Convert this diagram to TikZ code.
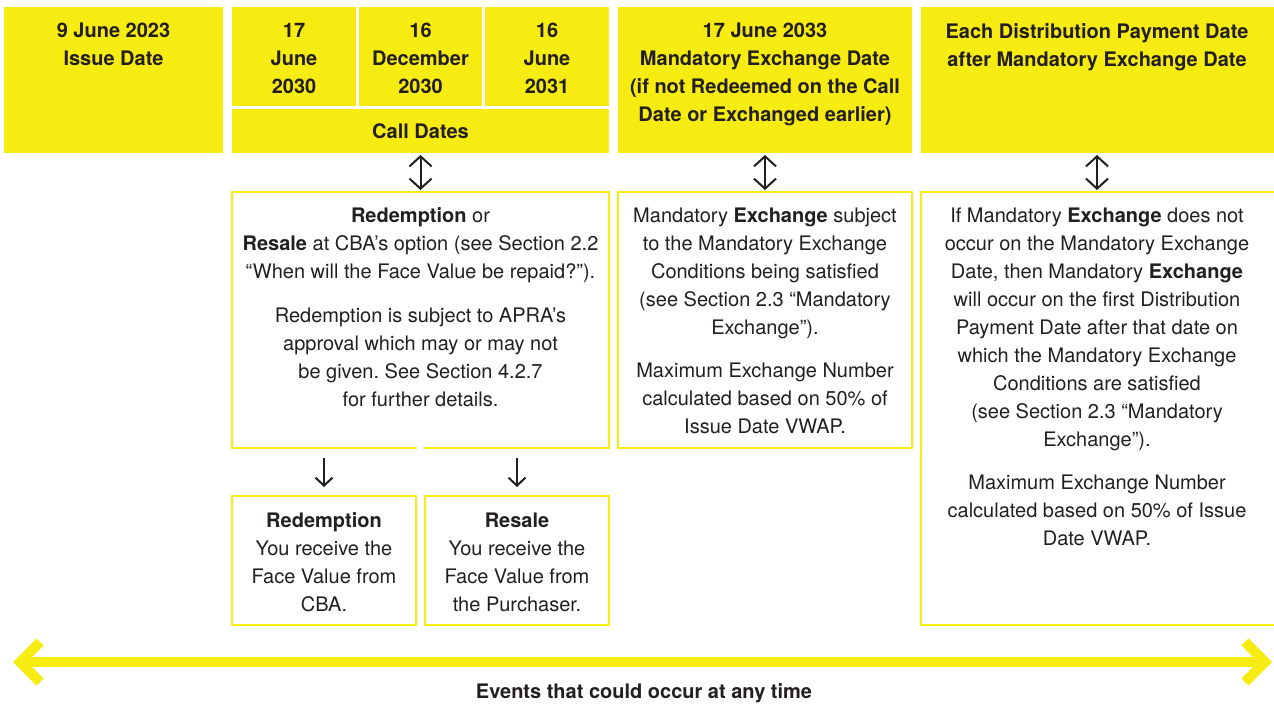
\documentclass[tikz,border=0pt]{standalone}
\usepackage{fontspec}
\setmainfont{TeX Gyre Heros}
\usetikzlibrary{arrows.meta}
\definecolor{cbay}{RGB}{247,236,17}
\definecolor{ink}{RGB}{35,31,32}
\tikzset{
  fillbox/.style={rectangle, fill=cbay, inner sep=0pt, outer sep=0pt},
  linebox/.style={rectangle, draw=cbay, line width=1.5pt, inner sep=0pt, outer sep=0pt},
  txt/.style={inner sep=0pt, align=center, text=ink, font=\fontsize{20}{28}\selectfont},
  hdr/.style={txt, font=\fontsize{20}{28}\selectfont\bfseries},
  dblarrow/.style={draw=ink, line width=2pt, {Straight Barb[length=10pt,width=22pt]}-{Straight Barb[length=10pt,width=22pt]}},
  downarrow/.style={draw=ink, line width=2pt, -{Straight Barb[length=8pt,width=17pt]}},
  bigarrow/.style={draw=cbay, line width=10pt, {Straight Barb[length=20pt,width=40pt]}-{Straight Barb[length=20pt,width=40pt]}}
}
\newcommand{\mkbox}[6]{\node[#6, minimum width={#4-#2}, minimum height={#5-#3}, anchor=north west] (#1) at (#2,#3) {};}
\frenchspacing
\begin{document}
\begin{tikzpicture}[x=1pt,y=-1pt]
\useasboundingbox[fill=white] (0,0) rectangle (1274,706);
% header boxes
\mkbox{issue}{4}{7}{223}{153}{fillbox}
\mkbox{callA}{232}{7}{356}{106}{fillbox}
\mkbox{callB}{359}{7}{482}{106}{fillbox}
\mkbox{callC}{485}{7}{609}{106}{fillbox}
\mkbox{calls}{232}{109}{609}{153}{fillbox}
\mkbox{mand}{618}{7}{912}{153}{fillbox}
\mkbox{dist}{921}{7}{1274}{153}{fillbox}
% text boxes
\mkbox{callbody}{232}{192}{609}{448}{linebox}
\draw[white, line width=2.5pt] (417,448) -- (424,448);
\mkbox{mandbody}{618}{192}{912}{448}{linebox}
\mkbox{distbody}{921}{192}{1276}{625}{linebox}
\mkbox{redbox}{232}{496}{416}{625}{linebox}
\mkbox{resbox}{425}{496}{609}{625}{linebox}
% header texts
\node[hdr, anchor=north] (tissue) at (113.5,23) {9 June 2023\\Issue Date};
\node[hdr, anchor=north] (tA) at (294,23) {17\\June\\2030};
\node[hdr, anchor=north] (tB) at (420.5,23) {16\\December\\2030};
\node[hdr, anchor=north] (tC) at (547,23) {16\\June\\2031};
\node[hdr] (tcalls) at (420.5,131) {Call Dates};
\node[hdr, anchor=north] (tmand) at (765,23) {17 June 2033\\Mandatory Exchange Date\\(if not Redeemed on the Call\\Date or Exchanged earlier)};
\node[hdr, anchor=north] (tdist) at (1097,23) {Each Distribution Payment Date\\after Mandatory Exchange Date};
% body texts
\node[txt, anchor=north] (tcallbody) at (420.5,207.5) {\textbf{Redemption} or\\\textbf{Resale} at CBA’s option (see Section 2.2\\“When will the Face Value be repaid?”).\\[16pt]Redemption is subject to APRA’s\\approval which may or may not\\be given. See Section 4.2.7\\for further details.};
\node[txt, anchor=north] (tmandbody) at (765,207.5) {Mandatory \textbf{Exchange} subject\\to the Mandatory Exchange\\Conditions being satisfied\\(see Section 2.3 “Mandatory\\Exchange”).\\[15pt]Maximum Exchange Number\\calculated based on 50\% of\\Issue Date VWAP.};
\node[txt, anchor=north] (tdistbody) at (1097,207.5) {If Mandatory \textbf{Exchange} does not\\occur on the Mandatory Exchange\\Date, then Mandatory \textbf{Exchange}\\will occur on the first Distribution\\Payment Date after that date on\\which the Mandatory Exchange\\Conditions are satisfied\\(see Section 2.3 “Mandatory\\Exchange”).\\[15pt]Maximum Exchange Number\\calculated based on 50\% of Issue\\Date VWAP.};
\node[txt, anchor=north] (tred) at (324,512.5) {\textbf{Redemption}\\You receive the\\Face Value from\\CBA.};
\node[txt, anchor=north] (tres) at (517,512.5) {\textbf{Resale}\\You receive the\\Face Value from\\the Purchaser.};
% connectors
\draw[dblarrow, shorten <=2pt, shorten >=2pt] (calls.south) -- (callbody.north);
\draw[dblarrow, shorten <=2pt, shorten >=2pt] (mand.south) -- (mandbody.north);
\draw[dblarrow, shorten <=2pt, shorten >=2pt] (dist.south -| tdist.south) -- (distbody.north -| tdist.south);
\draw[downarrow, shorten <=10pt, shorten >=9pt] (callbody.south -| redbox.north) -- (redbox.north);
\draw[downarrow, shorten <=10pt, shorten >=9pt] (callbody.south -| resbox.north) -- (resbox.north);
% timeline
\coordinate (evL) at (13,662);
\coordinate (evR) at (1272,662);
\draw[bigarrow] (evL) -- (evR);
\node[hdr] (tevents) at (644,693) {Events that could occur at any time};
\end{tikzpicture}
\end{document}
